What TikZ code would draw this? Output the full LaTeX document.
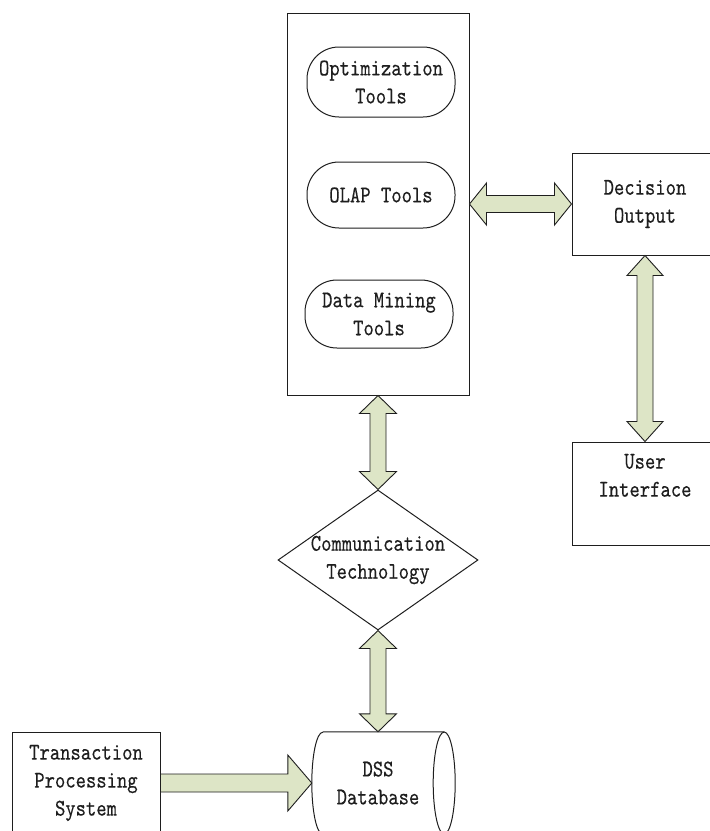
\documentclass[tikz,border=0pt]{standalone}
\usepackage{fontspec}
\setmonofont{lmmono10-regular.otf}[FakeStretch=0.82, FakeBold=0.25]
\usetikzlibrary{shapes.geometric,calc}
\definecolor{arrowfill}{HTML}{DDE5C6}
\definecolor{inkc}{HTML}{1E1E1E}
\newcommand\labelfont{\ttfamily\fontsize{24}{28}\selectfont}
% block double arrow between two points: from, to, shaft half width, head half width, head length
\newcommand\blockdouble[5]{%
  \path[blockarrow] let \p1=(#1), \p2=(#2),
      \n1={atan2(\y2-\y1,\x2-\x1)}, \n2={veclen(\x2-\x1,\y2-\y1)} in
    [shift={(\p1)}, rotate=\n1]
    (0pt,0pt) -- (#5pt,#4pt) -- (#5pt,#3pt) -- ({\n2*1pt-#5*1pt},#3pt)
    -- ({\n2*1pt-#5*1pt},#4pt) -- ({\n2*1pt},0pt) -- ({\n2*1pt-#5*1pt},-#4pt)
    -- ({\n2*1pt-#5*1pt},-#3pt) -- (#5pt,-#3pt) -- (#5pt,-#4pt) -- cycle;}
% block single arrow pointing at the second point
\newcommand\blocksingle[5]{%
  \path[blockarrow] let \p1=(#1), \p2=(#2),
      \n1={atan2(\y2-\y1,\x2-\x1)}, \n2={veclen(\x2-\x1,\y2-\y1)} in
    [shift={(\p1)}, rotate=\n1]
    (0pt,#3pt) -- ({\n2*1pt-#5*1pt},#3pt) -- ({\n2*1pt-#5*1pt},#4pt)
    -- ({\n2*1pt},0pt) -- ({\n2*1pt-#5*1pt},-#4pt) -- ({\n2*1pt-#5*1pt},-#3pt)
    -- (0pt,-#3pt) -- cycle;}
\tikzset{
  box/.style={draw=inkc, line width=1pt, inner sep=0pt, align=center,
    font=\labelfont, text=inkc},
  pill/.style={box, rounded corners=32pt, minimum width=148pt},
  blockarrow/.style={draw=inkc, line width=0.9pt, fill=arrowfill, line join=miter},
  outline/.style={draw=inkc, line width=1pt},
}
\begin{document}
\begin{tikzpicture}[x=1pt,y=-1pt]
\useasboundingbox (0,0) rectangle (710,831);
\fill[white] (0,0) rectangle (710,831);

% tool container and its tools
\node[box, minimum width=182pt, minimum height=382pt] (tools) at (378,204) {};
\node[pill, minimum height=70pt] (opt) at (381,82) {Optimization\\Tools};
\node[pill, minimum height=66pt] (olap) at (381,195) {OLAP Tools};
\node[pill, minimum height=68pt] (mining) at (379,314) {Data Mining\\Tools};

% communication layer
\node[box, diamond, minimum width=200pt, minimum height=140pt, aspect=1.43]
  (comm) at (378,560) {\makebox[90pt]{Communication}\\\makebox[90pt]{Technology}};

% database cylinder (lying on its side)
\node[align=center, font=\labelfont, text=inkc, inner sep=0pt,
  minimum width=132pt, minimum height=102pt] (dss) at (378,783) {DSS\\Database};
\draw[outline] ([xshift=11pt]dss.north west) -- (dss.north east)
  (dss.south east) -- ([xshift=11pt]dss.south west)
  arc[start angle=270, end angle=90, x radius=11pt, y radius=51pt];
\draw[outline] (dss.east) ellipse[x radius=11pt, y radius=51pt];

% source system
\node[box, minimum width=148pt, minimum height=102pt] (tps) at (86,783)
  {Transaction\\Processing\\System};

% output side
\node[box, minimum width=146pt, minimum height=102pt] (decision) at (645,204)
  {Decision\\Output};
\node[box, minimum width=146pt, minimum height=103pt] (ui) at (645,493.5)
  {User\\Interface\\\strut};

% connectors
\blockdouble{tools.south}{comm.north}{8}{18.5}{18}
\blockdouble{comm.south}{dss.north}{8}{18.5}{18}
\blocksingle{tps.east}{dss.west}{9}{28}{24}
\blockdouble{tools.east}{decision.west}{8.5}{21}{17}
\blockdouble{decision.south}{ui.north}{8}{18}{20}
\end{tikzpicture}
\end{document}
